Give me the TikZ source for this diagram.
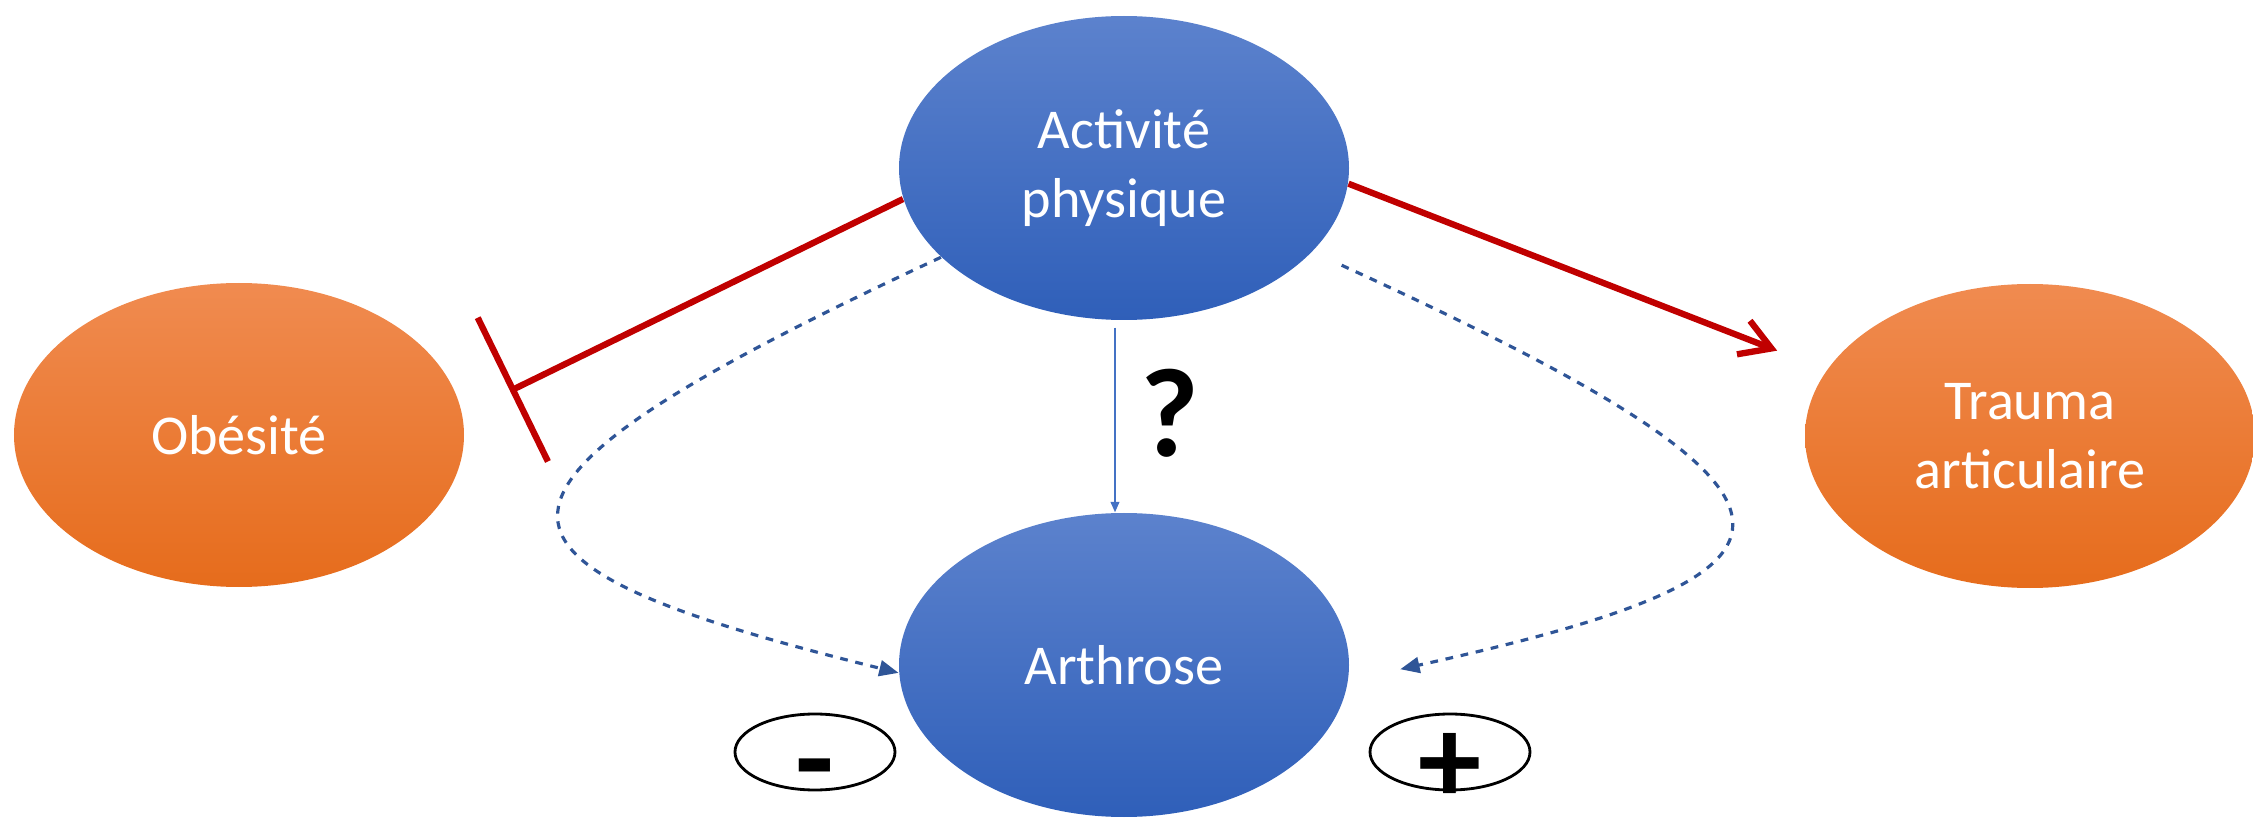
\documentclass[tikz,border=0pt]{standalone}
\usepackage{fontspec}
\setmainfont{Carlito}
\usetikzlibrary{arrows.meta,positioning,shapes.geometric,calc}
\definecolor{Bt}{HTML}{5C82CD}
\definecolor{Bb}{HTML}{2F5FB9}
\definecolor{Ot}{HTML}{F08B50}
\definecolor{Ob}{HTML}{E66C1C}
\definecolor{Rd}{HTML}{C00000}
\definecolor{Dk}{HTML}{2F5597}
\definecolor{Ln}{HTML}{4472C4}
\tikzset{
  bub/.style={ellipse, minimum width=4.5cm, minimum height=3.04cm, inner sep=0pt,
    text=white, align=center, font=\fontsize{16}{19.5}\selectfont},
  blueb/.style={bub, top color=Bt, bottom color=Bb},
  orangeb/.style={bub, top color=Ot, bottom color=Ob},
  sgn/.style={ellipse, draw=black, line width=0.8pt, minimum width=1.6cm,
    minimum height=0.76cm, inner sep=0pt, font=\fontsize{36}{36}\selectfont\bfseries},
  inhib/.style={Rd, line width=1.8pt, -{Bar[width=1.6cm]}},
  push/.style={Rd, line width=1.8pt, line join=round, -{Straight Barb[length=3mm,width=3.6mm]}},
  hint/.style={Dk, line width=0.9pt, dash pattern=on 2.2pt off 2.2pt, -{Triangle[length=5.5pt,width=4.5pt]}},
  query/.style={Ln, line width=0.5pt, -{Triangle[length=3pt,width=2.5pt]}},
}

\begin{document}
\begin{tikzpicture}
  \useasboundingbox (0,0) rectangle (22.53,8.22);
  % bulles
  \node[blueb] (act) at (11.24,6.54) {Activité\\physique};
  \node[orangeb] (obes) at (2.39,3.87) {Obésité};
  \node[orangeb] (trauma) at (20.30,3.86) {Trauma\\articulaire};
  \node[blueb] (arth) at (11.24,1.57) {Arthrose};
  \node[sgn] (moins) at (8.15,0.70) {\smash{\raisebox{-0.50cm}{-}}};
  \node[sgn] (plus) at (14.50,0.70) {\smash{\raisebox{-0.52cm}{+}}};
  \node[font=\fontsize{36}{36}\selectfont\bfseries] (q) at (11.70,4.09) {?};
  % liens
  \coordinate (stop) at (5.10,4.31);
  \draw[inhib] (act.188) -- (stop);
  \draw[push, shorten >=5.3mm] (act.-4) -- (trauma.162);
  \draw[query, shorten <=0.7mm] ([xshift=-0.9mm]act.south) -- ([xshift=-0.9mm]arth.north);
  \draw[hint] (act.206) .. controls (4.3,3.27) and (4.5,2.6) .. (arth.182);
  \draw[hint, shorten <=3.2mm, shorten >=5.3mm] (act.-24) .. controls (18.6,3.2) and (18.4,2.5) .. (arth.-4);
\end{tikzpicture}
\end{document}
